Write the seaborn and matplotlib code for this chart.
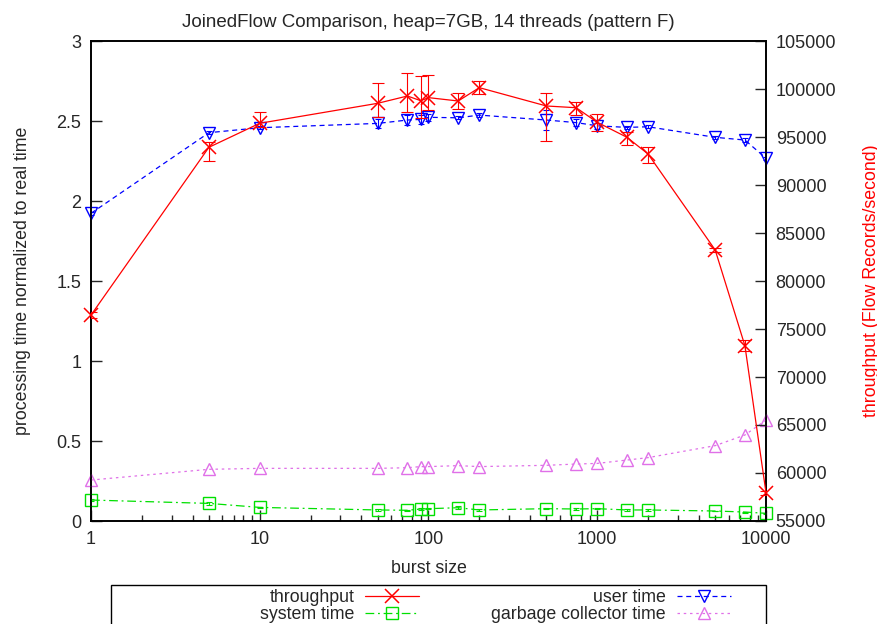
import numpy as np
import pandas as pd
import matplotlib
matplotlib.use("Agg")
import matplotlib.pyplot as plt
import seaborn as sns
from matplotlib.patches import Rectangle
from matplotlib.ticker import FixedLocator, FixedFormatter, LogLocator, NullFormatter

burst_size = [1, 5, 10, 50, 75, 90, 100, 150, 200, 500, 750, 1000, 1500, 2000, 5000, 7500, 10000]

throughput = [76450, 93930, 96430, 98510, 99270, 98780, 99100, 98750, 100140,
              98230, 98050, 96530, 94970, 93230, 83230, 73260, 57950]
throughput_err_low = [300, 1430, 400, 1400, 1630, 1840, 1280, 870, 700,
                      3610, 760, 870, 800, 900, 180, 600, 200]
throughput_err_high = [300, 580, 1210, 2150, 2360, 2570, 2360, 870, 700,
                       1390, 625, 870, 580, 700, 180, 600, 200]

user_time = [1.923, 2.427, 2.458, 2.485, 2.506, 2.510, 2.523, 2.520, 2.537,
             2.506, 2.490, 2.470, 2.460, 2.464, 2.398, 2.381, 2.267]
user_err = [0.01, 0.01, 0.01, 0.03, 0.03, 0.03, 0.02, 0.01, 0.01,
            0.06, 0.02, 0.02, 0.01, 0.01, 0.01, 0.01, 0.01]

system_time = [0.131, 0.110, 0.085, 0.069, 0.067, 0.075, 0.077, 0.083, 0.069,
               0.077, 0.075, 0.077, 0.069, 0.069, 0.0625, 0.056, 0.048]
system_err = [0.005, 0.008, 0.004, 0.004, 0.004, 0.005, 0.005, 0.008, 0.004,
              0.005, 0.005, 0.005, 0.004, 0.004, 0.003, 0.003, 0.003]

gc_time = [0.256, 0.323, 0.329, 0.329, 0.333, 0.340, 0.340, 0.346, 0.340,
           0.348, 0.356, 0.360, 0.381, 0.396, 0.471, 0.5375, 0.631]

left_ticks = [0, 0.5, 1, 1.5, 2, 2.5, 3]
right_ticks = [55000, 60000, 65000, 70000, 75000, 80000, 85000, 90000, 95000, 100000, 105000]
x_ticks = [1, 10, 100, 1000, 10000]

title = "JoinedFlow Comparison, heap=7GB, 14 threads (pattern F)"

df = pd.DataFrame({
    "burst": burst_size,
    "throughput": throughput,
    "user": user_time,
    "system": system_time,
    "gc": gc_time,
})

sns.set_style("ticks")
plt.rcParams["font.family"] = ["Liberation Sans", "DejaVu Sans"]

RED = "#ff0000"
GREEN = "#00e000"
BLUE = "#0000ff"
VIOLET = "#e070e8"
FS = 12.8
TFS = 13

fig = plt.figure(figsize=(8.78, 6.24), dpi=100)
ax = fig.add_axes([91 / 878, 1 - 521 / 624, (766 - 91) / 878, (521 - 41) / 624])
ax2 = ax.twinx()

lw = 0.9
ms = 8

# left axis series
sns.lineplot(data=df, x="burst", y="system", ax=ax, color=GREEN, lw=lw,
             linestyle=(0, (7, 3, 1.5, 3)), marker="s", markersize=ms,
             markerfacecolor="none", markeredgecolor=GREEN, markeredgewidth=1.0,
             label="system time", legend=False, zorder=3, clip_on=False)
ax.errorbar(burst_size, system_time, yerr=system_err, fmt="none", ecolor=GREEN,
            elinewidth=0.8, capsize=2.5, capthick=0.8, zorder=3)

sns.lineplot(data=df, x="burst", y="user", ax=ax, color=BLUE, lw=lw,
             linestyle=(0, (4, 3)), marker="v", markersize=ms + 1,
             markerfacecolor="none", markeredgecolor=BLUE, markeredgewidth=1.0,
             label="user time", legend=False, zorder=3, clip_on=False)
ax.errorbar(burst_size, user_time, yerr=user_err, fmt="none", ecolor=BLUE,
            elinewidth=0.8, capsize=2.5, capthick=0.8, zorder=3)

sns.lineplot(data=df, x="burst", y="gc", ax=ax, color=VIOLET, lw=lw,
             linestyle=(0, (2, 3)), marker="^", markersize=ms + 1,
             markerfacecolor="none", markeredgecolor=VIOLET, markeredgewidth=1.0,
             label="garbage collector time", legend=False, zorder=3, clip_on=False)

# right axis series
sns.lineplot(data=df, x="burst", y="throughput", ax=ax2, color=RED, lw=lw,
             marker="x", markersize=ms + 2, markeredgecolor=RED, markeredgewidth=1.1,
             label="throughput", legend=False, zorder=4, clip_on=False)
ax2.errorbar(burst_size, throughput, yerr=[throughput_err_low, throughput_err_high],
             fmt="none", ecolor=RED, elinewidth=0.8, capsize=4, capthick=0.8, zorder=4)

ax.set_xscale("log")
ax.set_xlim(1, 10000)
ax.set_ylim(0, 3)
ax2.set_ylim(55000, 105000)

ax.xaxis.set_major_locator(FixedLocator(x_ticks))
ax.xaxis.set_major_formatter(FixedFormatter([str(v) for v in x_ticks]))
ax.xaxis.set_minor_locator(LogLocator(base=10, subs=np.arange(2, 10), numticks=20))
ax.xaxis.set_minor_formatter(NullFormatter())

ax.set_yticks(left_ticks)
ax.set_yticklabels(["%g" % v for v in left_ticks])
ax2.set_yticks(right_ticks)
ax2.set_yticklabels([str(v) for v in right_ticks])

ax.tick_params(axis="x", which="major", direction="in", length=8, width=1, labelsize=TFS, pad=7, top=False)
ax.tick_params(axis="x", which="minor", direction="in", length=4, width=1, top=False)
ax.tick_params(axis="y", direction="in", length=8, width=1, labelsize=TFS, pad=7, right=False)
ax2.tick_params(axis="y", direction="in", length=8, width=1, labelsize=TFS, pad=7)

for a in (ax, ax2):
    for s in a.spines.values():
        s.set_linewidth(1.2)
        s.set_color("black")

ax.set_xlabel("burst size", fontsize=FS, labelpad=9)
ax.set_ylabel("processing time normalized to real time", fontsize=FS, labelpad=18)
ax2.set_ylabel("throughput (Flow Records/second)", fontsize=FS, color=RED, labelpad=19)
ax.set_title(title, fontsize=13.5, pad=10)

# legend (gnuplot style: text then sample, right aligned)
h_tp, l_tp = ax2.get_legend_handles_labels()
h_l, l_l = ax.get_legend_handles_labels()
hmap = dict(zip(l_tp + l_l, h_tp + h_l))
order = ["throughput", "system time", "user time", "garbage collector time"]
leg = fig.legend([hmap[k] for k in order], order, ncol=2, markerfirst=False,
                 frameon=False, loc="upper right",
                 bbox_to_anchor=(731 / 878, 1 - 589 / 624),
                 borderpad=0, borderaxespad=0, fontsize=FS,
                 handlelength=3.05, handletextpad=0.6, columnspacing=4.05,
                 labelspacing=0.0)
fig.add_artist(Rectangle((111 / 878, -0.01), (766 - 111) / 878, (624 - 585) / 624 + 0.01,
                         transform=fig.transFigure, fill=False, edgecolor="black",
                         linewidth=1.0, clip_on=False))

fig.savefig("out.png", dpi=100)
